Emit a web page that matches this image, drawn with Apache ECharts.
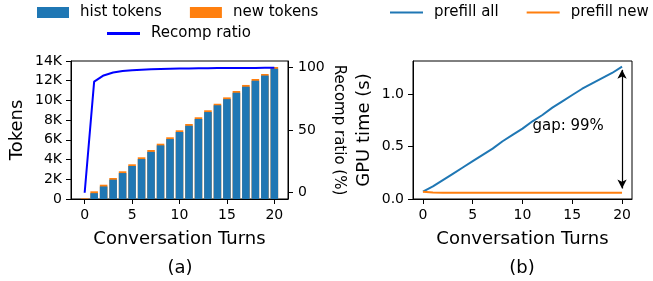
<!DOCTYPE html>
<html>
<head>
<meta charset="utf-8">
<title>Recomp ratio and GPU time</title>
<script src="https://cdn.jsdelivr.net/npm/echarts@6/dist/echarts.min.js"></script>
<style>
  html, body { margin: 0; padding: 0; background: #fff; }
  #chart { width: 653px; height: 281px; }
</style>
</head>
<body>
<div id="chart"></div>
<script>
  // data
  var turns = [0, 1, 2, 3, 4, 5, 6, 7, 8, 9, 10, 11, 12, 13, 14, 15, 16, 17, 18, 19, 20];
  var histTokens = [0, 590, 1270, 1960, 2630, 3350, 4050, 4780, 5440, 6080, 6800, 7430, 8120, 8820, 9500, 10130, 10790, 11390, 12000, 12520, 13220];
  var newTokens = [60, 190, 180, 170, 180, 170, 180, 190, 170, 180, 170, 180, 170, 180, 170, 180, 170, 180, 170, 160, 170];
  var recompRatio = [0, 88.5, 93.5, 95.8, 97.0, 97.7, 98.1, 98.4, 98.7, 98.9, 99.0, 99.1, 99.2, 99.3, 99.35, 99.4, 99.45, 99.5, 99.5, 99.55, 99.6];
  var prefillAll = [0.07, 0.12, 0.18, 0.24, 0.30, 0.36, 0.42, 0.48, 0.55, 0.61, 0.67, 0.74, 0.80, 0.87, 0.93, 0.99, 1.05, 1.10, 1.15, 1.20, 1.26];
  var prefillNew = [0.07, 0.062, 0.06, 0.06, 0.06, 0.06, 0.06, 0.06, 0.06, 0.06, 0.06, 0.06, 0.06, 0.06, 0.06, 0.06, 0.06, 0.06, 0.06, 0.06, 0.06];
  var turnTicks = [0, 5, 10, 15, 20];
  var ratioTicks = [0, 50, 100];
  var timeTicks = [0, 0.5, 1.0];

  function pairs(ys) {
    var out = [];
    for (var i = 0; i < turns.length; i++) out.push([turns[i], ys[i]]);
    return out;
  }

  // new tokens sit on top of hist tokens: draw the total in orange behind the blue bar
  var totalTokens = [];
  for (var i = 0; i < turns.length; i++) totalTokens.push(histTokens[i] + newTokens[i]);

  var font = 'DejaVu Sans';
  var tickFont = { fontFamily: font, fontSize: 14, color: '#000' };
  var nameFont = { fontFamily: font, fontSize: 18, color: '#000' };
  var legendFont = { fontFamily: font, fontSize: 15, color: '#000', padding: [0, 0, 0, 6] };
  var blackLine = { show: true, onZero: false, lineStyle: { color: '#000', width: 1 } };

  function kfmt(v) { return v == 0 ? '0' : (v / 1000) + 'K'; }

  var myChart = echarts.init(document.getElementById('chart'));

  var option = {
    animation: false,
    backgroundColor: '#fff',
    textStyle: { fontFamily: font },
    legend: [
      {
        data: ['hist tokens', 'new tokens'],
        left: 37, top: 5, padding: 0, itemWidth: 32, itemHeight: 11, itemGap: 28,
        icon: 'rect', textStyle: legendFont
      },
      {
        data: ['Recomp ratio'],
        left: 107, top: 26, padding: 0, itemWidth: 33, itemHeight: 3,
        icon: 'rect', textStyle: legendFont
      },
      {
        data: ['prefill all', 'prefill new'],
        left: 390, top: 5, padding: 0, width: 400, itemWidth: 33, itemHeight: 2, itemGap: 28,
        icon: 'rect', textStyle: legendFont
      }
    ],
    grid: [
      { left: 71, top: 61, width: 217, height: 138, show: true, borderColor: '#000', borderWidth: 1 },
      { left: 413, top: 61, width: 219, height: 138, show: true, borderColor: '#000', borderWidth: 1 }
    ],
    xAxis: [
      {
        type: 'value', gridIndex: 0, min: -1.44, max: 21.44,
        name: 'Conversation Turns', nameLocation: 'middle', nameGap: 31, nameTextStyle: nameFont,
        axisLine: blackLine,
        axisTick: { length: 5, lineStyle: { color: '#000' }, customValues: turnTicks },
        axisLabel: Object.assign({ margin: 9, customValues: turnTicks }, tickFont),
        splitLine: { show: false }
      },
      {
        type: 'value', gridIndex: 1, min: -1, max: 21,
        name: 'Conversation Turns', nameLocation: 'middle', nameGap: 31, nameTextStyle: nameFont,
        axisLine: blackLine,
        axisTick: { length: 5, lineStyle: { color: '#000' }, customValues: turnTicks },
        axisLabel: Object.assign({ margin: 9, customValues: turnTicks }, tickFont),
        splitLine: { show: false }
      }
    ],
    yAxis: [
      {
        type: 'value', gridIndex: 0, min: 0, max: 14000, interval: 2000,
        name: 'Tokens', nameLocation: 'middle', nameGap: 45, nameTextStyle: nameFont,
        axisLine: blackLine,
        axisTick: { show: true, length: 5, lineStyle: { color: '#000' } },
        axisLabel: Object.assign({ margin: 9, formatter: kfmt }, tickFont),
        splitLine: { show: false }
      },
      {
        type: 'value', gridIndex: 0, min: -5, max: 105, position: 'right',
        name: 'Recomp ratio (%)', nameLocation: 'middle', nameGap: 43, nameRotate: -90,
        nameTextStyle: { fontFamily: font, fontSize: 15, color: '#000' },
        axisLine: blackLine,
        axisTick: { show: true, length: 5, lineStyle: { color: '#000' }, customValues: ratioTicks },
        axisLabel: Object.assign({ margin: 10, customValues: ratioTicks }, tickFont),
        splitLine: { show: false }
      },
      {
        type: 'value', gridIndex: 1, min: 0, max: 1.314,
        name: 'GPU time (s)', nameLocation: 'middle', nameGap: 40, nameTextStyle: nameFont,
        axisLine: blackLine,
        axisTick: { show: true, length: 5, lineStyle: { color: '#000' }, customValues: timeTicks },
        axisLabel: Object.assign({ margin: 9, customValues: timeTicks, formatter: function (v) { return v.toFixed(1); } }, tickFont),
        splitLine: { show: false }
      }
    ],
    graphic: [
      { type: 'text', x: 180, y: 268, style: { text: '(a)', font: '18px "DejaVu Sans"', fill: '#000', align: 'center', verticalAlign: 'middle' } },
      { type: 'text', x: 522, y: 268, style: { text: '(b)', font: '18px "DejaVu Sans"', fill: '#000', align: 'center', verticalAlign: 'middle' } }
    ],
    series: [
      {
        name: 'new tokens', type: 'bar', xAxisIndex: 0, yAxisIndex: 0,
        barWidth: 7.6, barGap: '-100%', itemStyle: { color: '#ff7f0e' }, data: pairs(totalTokens)
      },
      {
        name: 'hist tokens', type: 'bar', xAxisIndex: 0, yAxisIndex: 0,
        barWidth: 7.6, barGap: '-100%', itemStyle: { color: '#1f77b4' }, data: pairs(histTokens)
      },
      {
        name: 'Recomp ratio', type: 'line', xAxisIndex: 0, yAxisIndex: 1,
        symbol: 'none', lineStyle: { color: '#0000ff', width: 2 }, itemStyle: { color: '#0000ff' },
        data: pairs(recompRatio)
      },
      {
        name: 'prefill all', type: 'line', xAxisIndex: 1, yAxisIndex: 2,
        symbol: 'none', lineStyle: { color: '#1f77b4', width: 2 }, itemStyle: { color: '#1f77b4' },
        data: pairs(prefillAll),
        markLine: {
          silent: true, symbol: ['arrow', 'arrow'], symbolSize: [7, 9],
          lineStyle: { color: '#000', width: 1.2, type: 'solid' },
          label: { show: false },
          data: [[{ coord: [20, 1.23] }, { coord: [20, 0.1] }]]
        },
        markPoint: {
          silent: true, symbol: 'circle', symbolSize: 0,
          label: { show: true, position: 'right', distance: 0, formatter: 'gap: 99%', fontFamily: font, fontSize: 15, color: '#000' },
          data: [{ coord: [11, 0.695] }]
        }
      },
      {
        name: 'prefill new', type: 'line', xAxisIndex: 1, yAxisIndex: 2,
        symbol: 'none', lineStyle: { color: '#ff7f0e', width: 2 }, itemStyle: { color: '#ff7f0e' },
        data: pairs(prefillNew)
      }
    ]
  };

  myChart.setOption(option);
</script>
</body>
</html>
